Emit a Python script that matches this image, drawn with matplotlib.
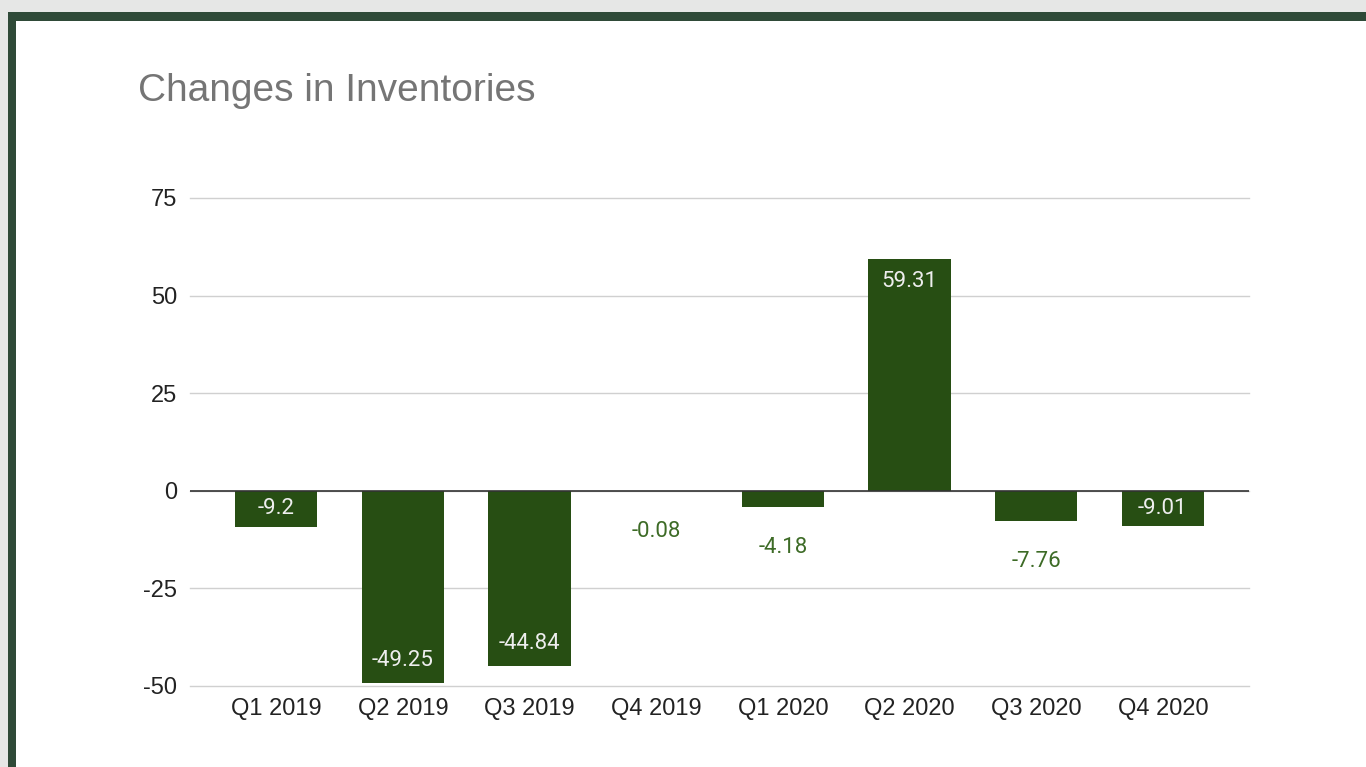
import matplotlib
matplotlib.use("Agg")
import matplotlib.pyplot as plt
from matplotlib.patches import Rectangle

categories = ["Q1 2019", "Q2 2019", "Q3 2019", "Q4 2019", "Q1 2020", "Q2 2020", "Q3 2020", "Q4 2020"]
values = [-9.2, -49.25, -44.84, -0.08, -4.18, 59.31, -7.76, -9.01]
yticks = [-50, -25, 0, 25, 50, 75]
title = "Changes in Inventories"

W, H = 1366, 767
fig = plt.figure(figsize=(W / 100, H / 100), dpi=100)
fig.patch.set_facecolor("#e6e7e6")
# dark green frame and white card
fig.patches.append(Rectangle((8 / W, 0), 1 - 8 / W, 1 - 12 / H, transform=fig.transFigure,
                             facecolor="#2f4a38", edgecolor="none", zorder=0))
fig.patches.append(Rectangle((16 / W, 0), 1 - 16 / W, 1 - 21 / H, transform=fig.transFigure,
                             facecolor="white", edgecolor="none", zorder=0))

ax_top, ax_bot = 198, 686
ax = fig.add_axes([190 / W, 1 - ax_bot / H, (1249 - 190) / W, (ax_bot - ax_top) / H])
ax.set_zorder(2)
ax.set_facecolor("none")
x = list(range(len(categories)))
bars = ax.bar(x, values, width=0.65, color="#274e13", zorder=3)
ax.set_xlim(-0.68, len(categories) - 1 + 0.68)
ax.set_ylim(-50, 75)
ax.set_yticks(yticks)
ax.set_yticklabels([str(t) for t in yticks], fontsize=17, color="#222222", family="Liberation Sans")
ax.set_xticks(x)
ax.set_xticklabels(categories, fontsize=17, color="#222222", family="Liberation Sans")
ax.tick_params(axis="both", length=0)
ax.tick_params(axis="y", pad=9)
ax.tick_params(axis="x", pad=9)
for s in ax.spines.values():
    s.set_visible(False)
ax.grid(axis="y", color="#d0d0d0", linewidth=1, zorder=0)
for gl in ax.get_ygridlines():
    gl.set_clip_on(False)
ax.axhline(0, color="#333333", linewidth=1.2, zorder=4)

# points per data unit along y
pt_per_unit = (ax_bot - ax_top) / (75 - (-50)) * 0.72
for b, v in zip(bars, values):
    cx = b.get_x() + b.get_width() / 2
    if abs(v) >= 8.5:
        inset = min(16.0, abs(v) * pt_per_unit / 2)
        off = -inset if v > 0 else inset
        ax.annotate(f"{v:g}", (cx, v), xytext=(0, off), textcoords="offset points",
                    ha="center", va="center", color="#eeeeee", fontsize=16,
                    family="Roboto", zorder=5)
    else:
        ax.annotate(f"{v:g}", (cx, v), xytext=(0, -29), textcoords="offset points",
                    ha="center", va="center", color="#3d6b26", fontsize=16,
                    family="Roboto", zorder=5)

fig.text(138 / W, 1 - 91 / H, title, fontsize=28, color="#757575",
         family="Liberation Sans", ha="left", va="center")

fig.savefig("out.png", dpi=100, facecolor=fig.get_facecolor())
